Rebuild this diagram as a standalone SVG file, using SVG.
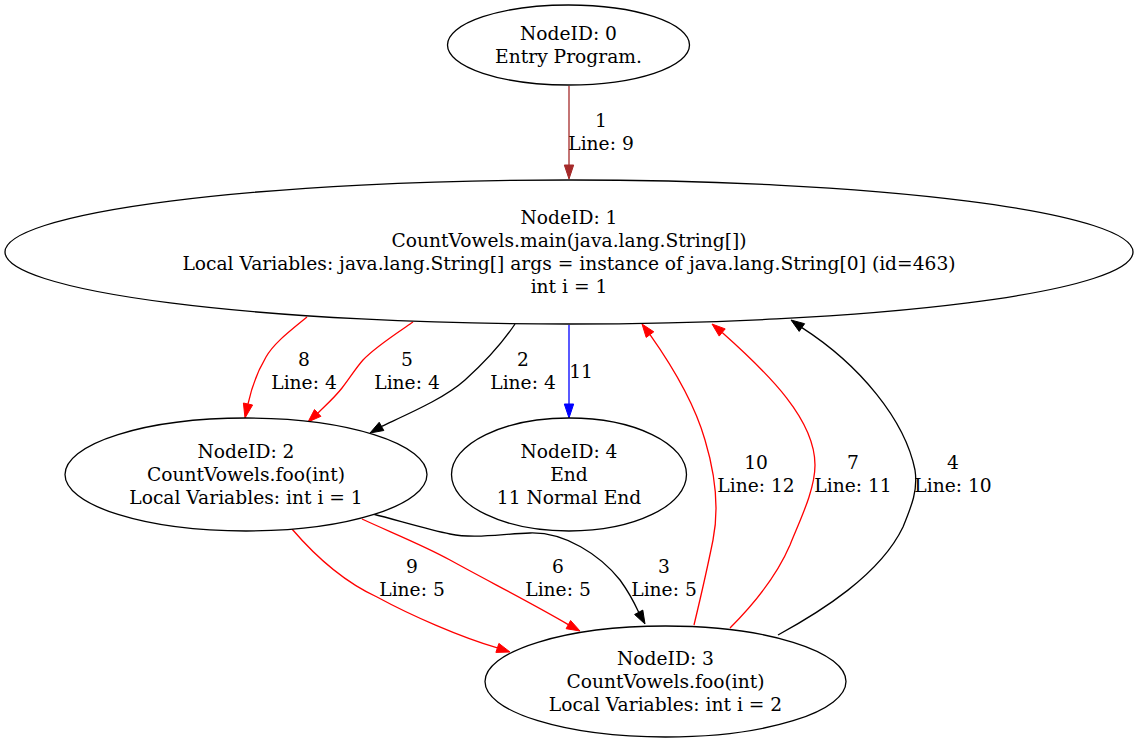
<svg xmlns="http://www.w3.org/2000/svg" width="1138" height="743" viewBox="0 0 1138 743">
<style>
text{font-family:"DejaVu Serif","Liberation Serif",serif;font-size:18.67px;text-anchor:middle;fill:#000}
.node ellipse{fill:#fff;stroke:#000;stroke-width:1.3}
.e path{fill:none;stroke-width:1.3}
.blk path{stroke:#000}.blk polygon{fill:#000;stroke:#000}
.red path{stroke:#f00}.red polygon{fill:#f00;stroke:#f00}
.blu path{stroke:#00f}.blu polygon{fill:#00f;stroke:#00f}
.brn path{stroke:#a52a2a}.brn polygon{fill:#a52a2a;stroke:#a52a2a}
</style>
<rect width="1138" height="743" fill="#fff"/>
<g id="connectors">
<g class="e brn"><path d="M569,86 L569,165"/><polygon points="564.3,165 569,179 573.7,165"/><text x="601" y="127">1</text><text x="601" y="150">Line: 9</text></g>
<g class="e red"><path d="M307,317 C290,331 274,343 266,357 C256,374 251,390 248,404"/><polygon points="252.6,405 245,418 243.4,403"/><text x="304" y="366">8</text><text x="304" y="389">Line: 4</text></g>
<g class="e red"><path d="M413,322 C400,331 375,347 363,360 C355,369 350,378 342,388 C335,397 326,405 318,413"/><polygon points="320.9,416.3 308,422 314.5,409.5"/><text x="407" y="366">5</text><text x="407" y="389">Line: 4</text></g>
<g class="e blk"><path d="M515,324 C503,342 485,362 465,380 C445,398 410,413 381.5,426.4"/><polygon points="383.8,430.5 370,433 379.2,422.3"/><text x="523" y="366">2</text><text x="523" y="389">Line: 4</text></g>
<g class="e blu"><path d="M569,325 L569,404"/><polygon points="564.3,404 569,418 573.7,404"/><text x="581" y="378">11</text></g>
<g class="e red"><path d="M292,529 C310,550 340,580 377,597 C410,615 460,637 497.4,647.9"/><polygon points="495.9,652.4 510,652 498.9,643.4"/><text x="412" y="573">9</text><text x="412" y="596">Line: 5</text></g>
<g class="e red"><path d="M362,519 C390,532 425,546 450,560 C490,582 535,605 568.3,624.6"/><polygon points="566.1,628.7 580,631 570.6,620.5"/><text x="558" y="573">6</text><text x="558" y="596">Line: 5</text></g>
<g class="e blk"><path d="M373,514 C400,521 430,530 450,534 C475,539 500,534 530,533 C565,532 600,555 620,580 C628,591 634,602 638.7,612.3"/><polygon points="634.6,614.5 645,624 642.8,610.1"/><text x="664" y="573">3</text><text x="664" y="596">Line: 5</text></g>
<g class="e red"><path d="M694,625 C700,600 707,570 713,540 C720,505 714,470 705,440 C695,405 675,370 650,334.6"/><polygon points="653.8,331.8 642,324 646.2,337.4"/><text x="756" y="469">10</text><text x="756" y="492">Line: 12</text></g>
<g class="e red"><path d="M730,628 C750,608 775,580 790,545 C800,520 815,490 815,465 C815,420 770,375 722.2,332.5"/><polygon points="725.2,328.9 712,324 719.2,336.1"/><text x="853" y="469">7</text><text x="853" y="492">Line: 11</text></g>
<g class="e blk"><path d="M778,635 C820,612 880,575 903,527 C912,505 918,490 915,470 C905,420 860,365 801.9,327.6"/><polygon points="804.6,323.7 791,320 799.2,331.4"/><text x="953" y="469">4</text><text x="953" y="492">Line: 10</text></g>
</g>
<g id="node0" class="node"><ellipse cx="568.5" cy="45" rx="121" ry="40"/><text x="568.5" y="40">NodeID: 0</text><text x="568.5" y="63">Entry Program.</text></g>
<g id="node1" class="node"><ellipse cx="569" cy="252" rx="564" ry="72"/><text x="569" y="224">NodeID: 1</text><text x="569" y="247">CountVowels.main(java.lang.String[])</text><text x="569" y="270">Local Variables: java.lang.String[] args = instance of java.lang.String[0] (id=463)</text><text x="569" y="293">int i = 1</text></g>
<g id="node2" class="node"><ellipse cx="246" cy="474.5" rx="181" ry="56.5"/><text x="246" y="458">NodeID: 2</text><text x="246" y="481">CountVowels.foo(int)</text><text x="246" y="504">Local Variables: int i = 1</text></g>
<g id="node4" class="node"><ellipse cx="569" cy="474.5" rx="117.5" ry="56.5"/><text x="569" y="458">NodeID: 4</text><text x="569" y="481">End</text><text x="569" y="504">11 Normal End</text></g>
<g id="node3" class="node"><ellipse cx="665.5" cy="681.5" rx="180.5" ry="55.5"/><text x="665.5" y="665">NodeID: 3</text><text x="665.5" y="688">CountVowels.foo(int)</text><text x="665.5" y="711">Local Variables: int i = 2</text></g>
</svg>
